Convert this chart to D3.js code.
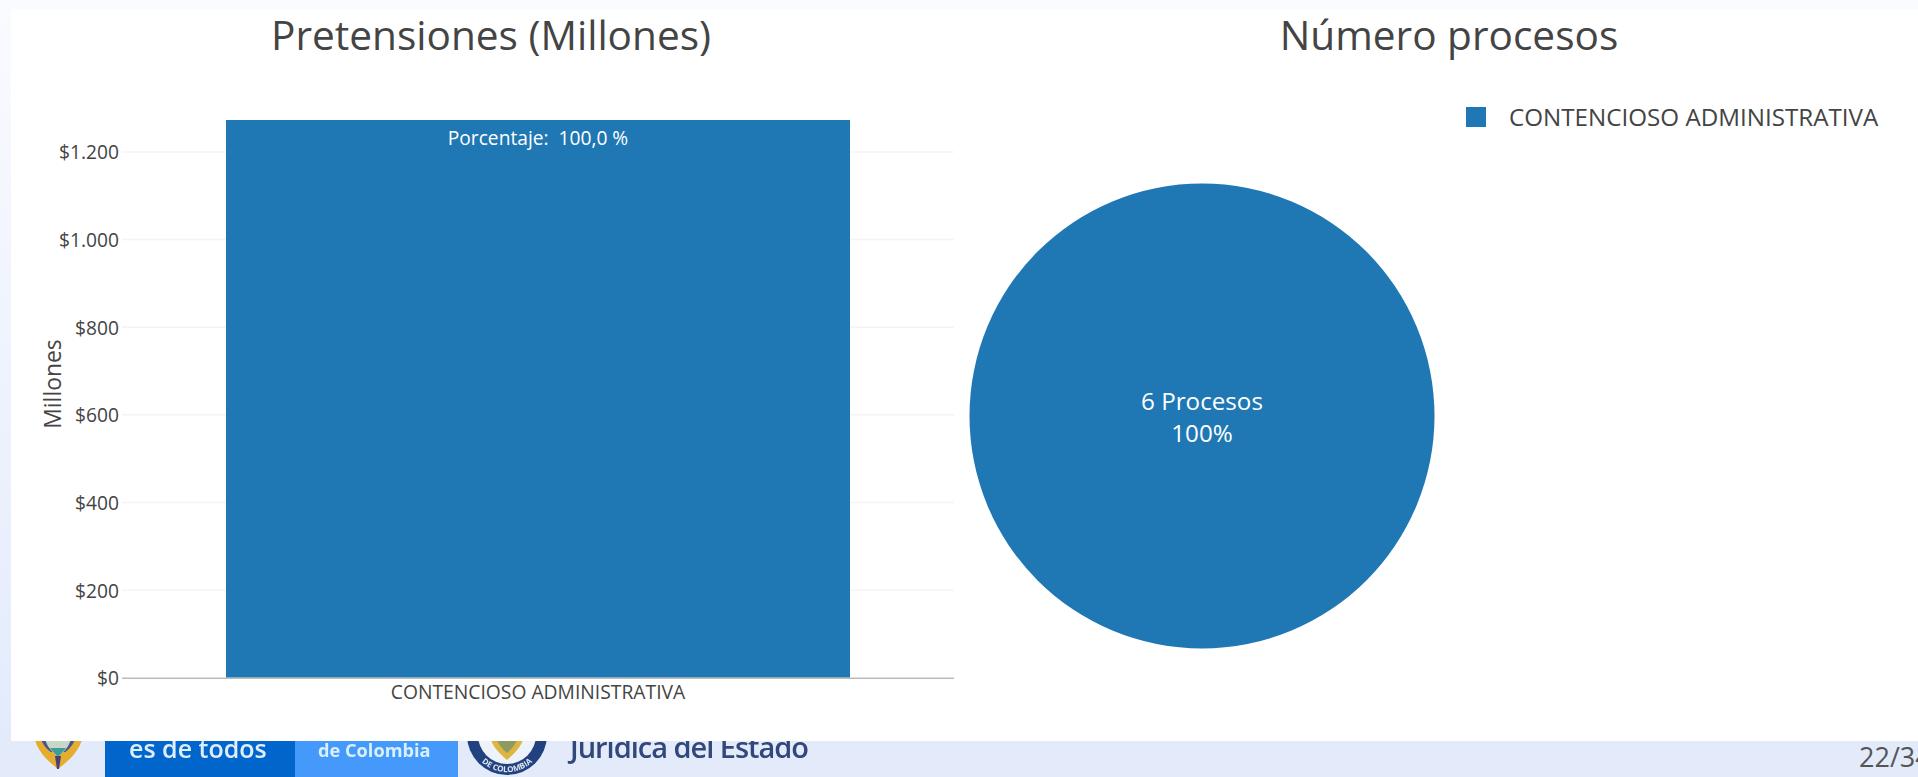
<!DOCTYPE html>
<html><head><meta charset="utf-8">
<script src="https://cdn.jsdelivr.net/npm/d3@7"></script>
<style>html,body{margin:0;padding:0;overflow:hidden;background:#e3ebfb}svg{display:block}text{font-family:"Open Sans",sans-serif;white-space:pre}</style>
</head><body><svg id="c" width="1918" height="777"></svg>
<script>
const categories = ["CONTENCIOSO ADMINISTRATIVA"];
const pretensiones = [1273];
const procesos = [6];
const yTicks = [0,200,400,600,800,1000,1200];
const titleLeft = "Pretensiones (Millones)";
const titleRight = "Número procesos";
const yLabel = "Millones";
const barLabel = "Porcentaje:  100,0 %";
const pieLines = ["6 Procesos","100%"];
const pageLabel = "22/34";
const BLUE = "#1f77b4", INK = "#444444";

const svg = d3.select("#c");
const defs = svg.append("defs");
const g = defs.append("linearGradient").attr("id","bg").attr("x1",0).attr("x2",0).attr("y1",0).attr("y2",1);
g.append("stop").attr("offset","0%").attr("stop-color","#fafbff");
g.append("stop").attr("offset","100%").attr("stop-color","#e2eafb");
svg.append("rect").attr("width",1918).attr("height",777).attr("fill","url(#bg)");
svg.append("rect").attr("y",741).attr("width",1918).attr("height",36).attr("fill","#e3ebfb");
defs.append("path").attr("id","sealArc").attr("d","M472.2 747.7 A37 37 0 0 0 541.8 747.7");
defs.append("filter").attr("id","soft").append("feGaussianBlur").attr("stdDeviation",0.5);

// footer, partly hidden by the white panel
const f = svg.append("g").attr("class","footer").attr("filter","url(#soft)");
f.append("rect").attr("x",105).attr("y",730).attr("width",190).attr("height",47).attr("fill","#0066cc");
f.append("rect").attr("x",295).attr("y",730).attr("width",163).attr("height",47).attr("fill","#4499fb");
f.append("text").attr("x",129).attr("y",758).attr("font-size",25).attr("font-weight",600).attr("fill","#dfeefc").text("es de todos");
f.append("text").attr("x",318).attr("y",757).attr("font-size",18.2).attr("font-weight",700).attr("fill","#d8f0fb").text("de Colombia");
// left coat of arms
f.append("path").attr("d","M33 728 C34 748 44 758 58 769 C72 758 83 748 84 728 Z").attr("fill","#e4ad2e");
f.append("path").attr("d","M38 728 C40 742 46 749 51 752 L65 752 C70 749 76 742 78 728 Z").attr("fill","#46568f");
f.append("path").attr("d","M43 728 C44 744 50 750 58 757 C66 750 72 744 73 728 Z").attr("fill","#c9d8c6");
f.append("path").attr("d","M50 748 C53 752 56 755 58 757 C60 755 63 752 66 748 Z").attr("fill","#3f9c9b");
f.append("path").attr("d","M55 756 L61 756 L59 769 L57 769 Z").attr("fill","#4a3f78");
// seal
f.append("circle").attr("cx",507).attr("cy",735).attr("r",40).attr("fill","#24437f");
f.append("circle").attr("cx",507).attr("cy",735).attr("r",29).attr("fill","#eef2fb");
f.append("path").attr("d","M488 728 C490 745 498 752 507 760 C516 752 524 745 526 728 Z").attr("fill","#dcb640");
f.append("path").attr("d","M494 728 C496 742 501 748 507 753 C513 748 518 742 520 728 Z").attr("fill","#8f9a63");
f.append("text").attr("font-size",8).attr("font-weight",700).attr("fill","#dfe6f5")
 .append("textPath").attr("href","#sealArc").attr("startOffset","50%").attr("text-anchor","middle").text("DE COLOMBIA");
f.append("text").attr("x",570).attr("y",758).attr("font-size",29).attr("font-weight",600).attr("fill","#33477b").attr("textLength",239).text("Jurídica del Estado");
svg.append("text").attr("x",1859).attr("y",767).attr("font-size",27).attr("fill","#555").text(pageLabel);

// white panel
svg.append("rect").attr("x",11).attr("y",9).attr("width",1907).attr("height",732).attr("fill","#fff");

// titles
svg.append("text").attr("x",491).attr("y",50).attr("text-anchor","middle").attr("font-size",40.6).attr("fill",INK).text(titleLeft);
svg.append("text").attr("x",1449).attr("y",50).attr("text-anchor","middle").attr("font-size",40.6).attr("fill",INK).text(titleRight);

// bar chart
const x = d3.scaleBand().domain(categories).range([122,954]).paddingInner(0).paddingOuter(1/6);
const y = d3.scaleLinear().domain([0,pretensiones[0]]).range([677.7,120]);
const fmt = d3.formatLocale({decimal:",",thousands:".",grouping:[3],currency:["$",""]}).format("$,");
svg.append("g").selectAll("line").data(yTicks.filter(d=>d>0)).join("line")
  .attr("x1",122).attr("x2",954).attr("y1",d=>y(d)).attr("y2",d=>y(d)).attr("stroke","#f4f4f4").attr("stroke-width",1.5);
svg.append("g").selectAll("rect").data(categories).join("rect")
  .attr("x",d=>x(d)).attr("width",x.bandwidth()).attr("y",(d,i)=>y(pretensiones[i])).attr("height",(d,i)=>y(0)-y(pretensiones[i])).attr("fill",BLUE);
const ax = svg.append("g").attr("transform","translate(122,0)").call(d3.axisLeft(y).tickValues(yTicks).tickFormat(fmt).tickSize(0).tickPadding(3));
ax.select(".domain").remove();
ax.selectAll("text").attr("font-size",19.2).attr("fill",INK).attr("dy","0.36em").style("font-family",'"Open Sans",sans-serif');
svg.append("line").attr("x1",122).attr("x2",954).attr("y1",y(0)+.5).attr("y2",y(0)+.5).attr("stroke","#bbb").attr("stroke-width",1.5);
const ax2 = svg.append("g").attr("transform",`translate(0,${y(0)})`).call(d3.axisBottom(x).tickSize(0).tickPadding(8));
ax2.select(".domain").remove();
ax2.selectAll("text").attr("font-size",19.3).attr("fill",INK).style("font-family",'"Open Sans",sans-serif');
svg.append("text").attr("transform","translate(61,384) rotate(-90)").attr("text-anchor","middle").attr("font-size",22.9).attr("fill",INK).text(yLabel);
svg.append("text").attr("x",x(categories[0])+x.bandwidth()/2).attr("y",145).attr("text-anchor","middle").attr("font-size",19.2).attr("fill","#fff").text(barLabel);

// pie
const pie = d3.pie().sort(null)(procesos);
const arc = d3.arc().innerRadius(0).outerRadius(232.5);
const p = svg.append("g").attr("transform","translate(1202,416)");
p.selectAll("path").data(pie).join("path").attr("d",arc).attr("fill",BLUE);
p.selectAll("text").data(pieLines).join("text").attr("x",0).attr("y",(d,i)=>-6+i*32).attr("text-anchor","middle").attr("font-size",24.2).attr("fill","#fff").text(d=>d);

// legend
svg.append("g").selectAll("rect").data(categories).join("rect").attr("x",1466).attr("y",107).attr("width",20).attr("height",20).attr("fill",BLUE);
svg.append("g").selectAll("text").data(categories).join("text").attr("x",1509).attr("y",126).attr("font-size",24.2).attr("fill",INK).text(d=>d);
</script></body></html>
